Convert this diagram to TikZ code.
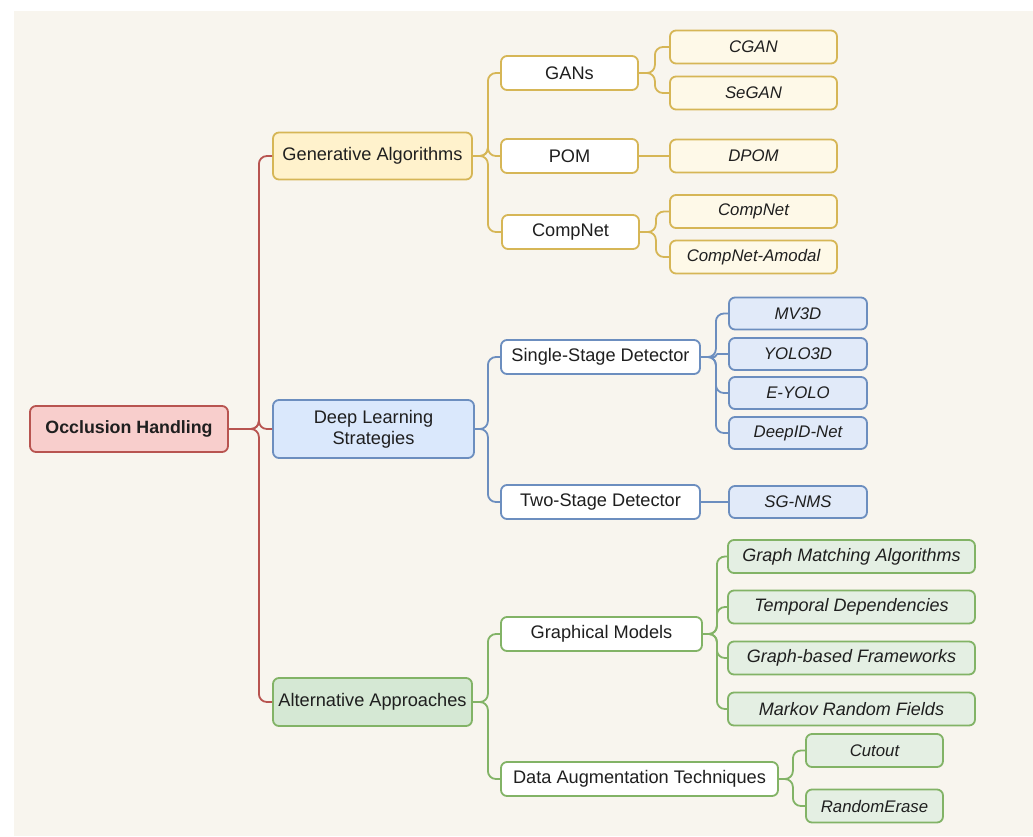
\documentclass[tikz,border=0pt]{standalone}
\usepackage{fontspec}
\setmainfont{Liberation Sans}
\usepackage{xcolor}
\definecolor{paper}{HTML}{F8F5EE}
\definecolor{redline}{HTML}{B85450}
\definecolor{redfill}{HTML}{F8CECC}
\definecolor{yelline}{HTML}{D6B656}
\definecolor{yelfill}{HTML}{FFF2CC}
\definecolor{yelpale}{HTML}{FEF9E8}
\definecolor{bluline}{HTML}{6C8EBF}
\definecolor{blufill}{HTML}{DAE8FC}
\definecolor{blupale}{HTML}{E1EAF9}
\definecolor{grnline}{HTML}{82B366}
\definecolor{grnfill}{HTML}{D5E8D4}
\definecolor{grnpale}{HTML}{E4EFE3}

\begin{document}
\begin{tikzpicture}[x=1pt, y=-1pt,
    box/.style={draw, rounded corners=6pt, line width=1.8pt, inner sep=0pt, align=center, text=black!88,
        font=\fontsize{18.2}{21}\selectfont},
    leaf/.style={box, font=\itshape\fontsize{16.8}{20}\selectfont},
    root/.style={box, fill=redfill, draw=redline, font=\bfseries\fontsize{17.8}{20}\selectfont,
        minimum width=198pt, minimum height=46pt},
    gen1/.style={box, fill=yelfill, draw=yelline, minimum width=199pt, minimum height=47pt},
    gen2/.style={box, fill=white, draw=yelline, minimum width=137pt, minimum height=34pt},
    gen3/.style={leaf, fill=yelpale, draw=yelline, minimum width=167pt, minimum height=33pt},
    deep1/.style={box, fill=blufill, draw=bluline, minimum width=201pt, minimum height=58pt},
    deep2/.style={box, fill=white, draw=bluline, minimum width=199pt, minimum height=34pt},
    deep3/.style={leaf, fill=blupale, draw=bluline, minimum width=138pt, minimum height=32pt},
    alt1/.style={box, fill=grnfill, draw=grnline, minimum width=199pt, minimum height=48pt},
    alt2/.style={box, fill=white, draw=grnline, minimum height=34pt},
    alt3/.style={leaf, fill=grnpale, draw=grnline, minimum height=33pt},
    wide/.style={alt3, minimum width=247pt, font=\itshape\fontsize{18}{21}\selectfont},
    conn/.style={line width=1.8pt, rounded corners=8pt}]

\useasboundingbox (0,0) rectangle (1033,836);
\fill[white] (0,0) rectangle (1033,836);
\fill[paper] (14,11) rectangle (1033,836);

\node[root] (occ) at (129,429) {Occlusion Handling};

\node[gen1] (gen) at (372.5,156) {Generative Algorithms};
\node[deep1] (deep) at (373.5,429) {Deep Learning\\Strategies};
\node[alt1] (alt) at (372.5,702) {Alternative Approaches};

% generative branch
\node[gen2] (gans) at (569.5,73) {GANs};
\node[gen2] (pom) at (569.5,156) {POM};
\node[gen2] (compnet) at (570.5,232) {CompNet};
\node[gen3] (cgan) at (753.5,47) {CGAN};
\node[gen3] (segan) at (753.5,93) {SeGAN};
\node[gen3] (dpom) at (753.5,156) {DPOM};
\node[gen3] (cnet) at (753.5,211.5) {CompNet};
\node[gen3] (amodal) at (753.5,257) {CompNet-Amodal};

% deep learning branch
\node[deep2] (single) at (600.5,357) {Single-Stage Detector};
\node[deep2] (two) at (600.5,502) {Two-Stage Detector};
\node[deep3] (mv3d) at (798,313.5) {MV3D};
\node[deep3] (yolo3d) at (798,354) {YOLO3D};
\node[deep3] (eyolo) at (798,393) {E-YOLO};
\node[deep3] (deepid) at (798,433) {DeepID-Net};
\node[deep3] (sgnms) at (798,502) {SG-NMS};

% alternative branch
\node[alt2, minimum width=201pt] (graph) at (601.5,634) {Graphical Models};
\node[alt2, minimum width=277pt] (augm) at (639.5,779) {Data Augmentation Techniques};
\node[wide] (match) at (851.5,556.5) {Graph Matching Algorithms};
\node[wide] (temp) at (851.5,607) {Temporal Dependencies};
\node[wide] (frame) at (851.5,658) {Graph-based Frameworks};
\node[wide] (markov) at (851.5,709) {Markov Random Fields};
\node[alt3, minimum width=137pt] (cutout) at (874.5,750.5) {Cutout};
\node[alt3, minimum width=137pt] (erase) at (874.5,806) {RandomErase};

\foreach \k in {gen,deep,alt}
    \draw[conn, redline] (occ.east) -- ++(30,0) |- (\k.west);

\foreach \k in {gans,pom,compnet}
    \draw[conn, yelline] (gen.east) -- ++(15,0) |- (\k.west);
\foreach \a/\b in {gans/cgan,gans/segan,compnet/cnet,compnet/amodal}
    \draw[conn, yelline] (\a.east) -- ++(16,0) |- (\b.west);
\draw[conn, yelline] (pom.east) -- (dpom.west);

\foreach \k in {single,two}
    \draw[conn, bluline] (deep.east) -- ++(13,0) |- (\k.west);
\foreach \k in {mv3d,eyolo,deepid}
    \draw[conn, bluline] (single.east) -- ++(15,0) |- (\k.west);
\draw[conn, bluline, rounded corners=1.4pt] (single.east) -- ++(15,0) |- (yolo3d.west);
\draw[conn, bluline] (two.east) -- (sgnms.west);

\foreach \k in {graph,augm}
    \draw[conn, grnline] (alt.east) -- ++(15,0) |- (\k.west);
\foreach \k in {match,temp,frame,markov}
    \draw[conn, grnline] (graph.east) -- ++(14,0) |- (\k.west);
\foreach \k in {cutout,erase}
    \draw[conn, grnline] (augm.east) -- ++(14,0) |- (\k.west);

\end{tikzpicture}
\end{document}
